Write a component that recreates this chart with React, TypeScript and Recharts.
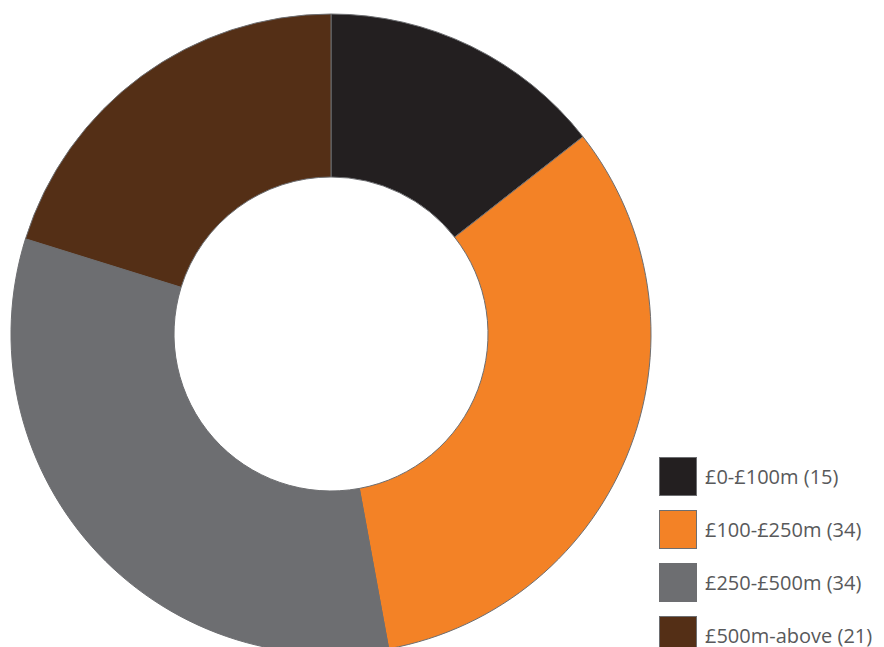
import React from 'react'
import { PieChart, Pie, Cell } from 'recharts'

const categories = ['£0-£100m', '£100-£250m', '£250-£500m', '£500m-above']
const counts = [15, 34, 34, 21]
const COLORS = ['#231F20', '#F38226', '#6D6E71', '#542F16']

const data = categories.map((name, i) => ({ name, value: counts[i] }))

function ChartLegend() {
  return (
    <div style={{ position: 'absolute', left: 659, top: 450, width: 225 }}>
      {data.map((d, i) => (
        <div key={d.name} style={{ display: 'flex', alignItems: 'center', height: 53 }}>
          <div
            style={{
              width: 36,
              height: 37,
              backgroundColor: COLORS[i],
              border: '1px solid #6D6E71',
              marginRight: 8,
              flexShrink: 0,
            }}
          />
          <span
            style={{
              fontSize: 20,
              lineHeight: 1,
              color: '#58595B',
              fontFamily: '"Open Sans", sans-serif',
              whiteSpace: 'nowrap',
            }}
          >
            {`${d.name} (${d.value})`}
          </span>
        </div>
      ))}
    </div>
  )
}

export default function App() {
  return (
    <div style={{ position: 'absolute', left: 0, top: 0, width: 884, height: 647, overflow: 'hidden', background: '#fff' }}>
      <PieChart width={884} height={647} margin={{ top: 0, right: 0, bottom: 0, left: 0 }}>
        <Pie
          data={data}
          dataKey="value"
          nameKey="name"
          cx={331}
          cy={334}
          innerRadius={157}
          outerRadius={320}
          startAngle={90}
          endAngle={-270}
          stroke="#6D6E71"
          strokeWidth={1}
          isAnimationActive={false}
        >
          {data.map((d, i) => (
            <Cell key={d.name} fill={COLORS[i]} />
          ))}
        </Pie>
      </PieChart>
      <ChartLegend />
    </div>
  )
}
